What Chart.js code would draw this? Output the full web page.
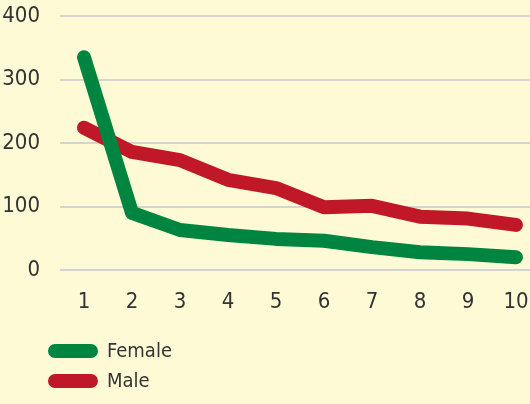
<!DOCTYPE html>
<html>
<head>
<meta charset="utf-8">
<script src="https://cdn.jsdelivr.net/npm/chart.js@4/dist/chart.umd.min.js"></script>
<style>
html,body{margin:0;padding:0;overflow:hidden;background:#fffad6;width:530px;height:404px;}
#wrap{width:540px;height:404px;}
canvas{display:block;}
</style>
</head>
<body>
<div id="wrap"><canvas id="c" width="540" height="404"></canvas></div>
<script>
const categories = ['1','2','3','4','5','6','7','8','9','10'];
const female = [335, 90, 63, 55, 49, 46, 36, 28, 25, 20];
const male = [224, 186, 173, 142, 129, 99, 101, 84, 81, 71];
const seriesNames = ['Female', 'Male'];
const seriesColors = ['#008540', '#c01826'];
const FONT = '"DejaVu Sans Condensed", "DejaVu Sans", sans-serif';

const legendPlugin = {
  id: 'stackLegend',
  afterDraw(chart) {
    const ctx = chart.ctx;
    ctx.save();
    chart.data.datasets.forEach((ds, i) => {
      const y = 351 + i * 30;
      ctx.strokeStyle = ds.borderColor;
      ctx.lineWidth = 14;
      ctx.lineCap = 'round';
      ctx.beginPath();
      ctx.moveTo(55, y);
      ctx.lineTo(91, y);
      ctx.stroke();
      ctx.fillStyle = '#333333';
      ctx.font = '20px ' + FONT;
      ctx.textBaseline = 'middle';
      ctx.textAlign = 'left';
      ctx.fillText(ds.label, 107, y + 1);
    });
    ctx.restore();
  }
};

new Chart(document.getElementById('c'), {
  type: 'line',
  data: {
    labels: categories,
    datasets: [
      { label: seriesNames[0], data: female, borderColor: seriesColors[0], backgroundColor: seriesColors[0] },
      { label: seriesNames[1], data: male, borderColor: seriesColors[1], backgroundColor: seriesColors[1] }
    ]
  },
  options: {
    responsive: false,
    animation: false,
    layout: { autoPadding: false, padding: { left: 2, top: 16, right: 0, bottom: 90 } },
    elements: {
      line: { borderWidth: 14, tension: 0, borderCapStyle: 'round', borderJoinStyle: 'round' },
      point: { radius: 0, hoverRadius: 0, borderWidth: 0 }
    },
    plugins: { legend: { display: false }, tooltip: { enabled: false } },
    scales: {
      x: {
        offset: true,
        grid: { display: false, drawTicks: false },
        border: { display: false },
        ticks: { color: '#333333', font: { family: FONT, size: 22, lineHeight: 1 }, padding: 21, maxRotation: 0 },
        afterFit(s) { s.height = 44; s.paddingLeft = 0; s.paddingRight = 0; }
      },
      y: {
        min: 0, max: 400,
        grid: { color: '#d4d4d4', lineWidth: 2, drawTicks: false },
        border: { display: false },
        ticks: { stepSize: 100, color: '#333333', font: { family: FONT, size: 22 }, padding: 20 },
        afterFit(s) { s.width = 58; s.paddingTop = 0; s.paddingBottom = 0; }
      }
    }
  },
  plugins: [legendPlugin]
});
</script>
</body>
</html>
